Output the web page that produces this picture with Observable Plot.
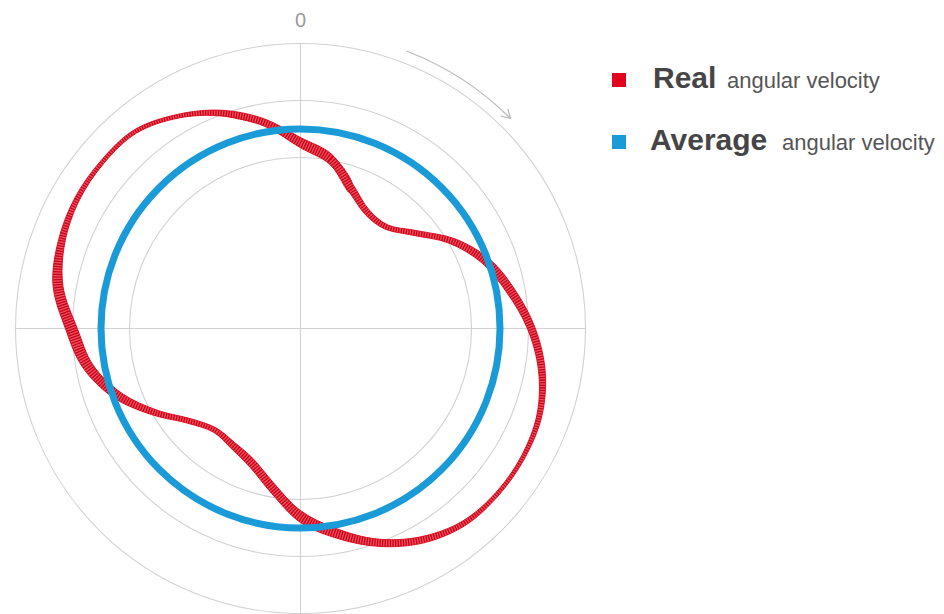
<!DOCTYPE html>
<html>
<head>
<meta charset="utf-8">
<script src="https://cdn.jsdelivr.net/npm/d3@7"></script>
<script src="https://cdn.jsdelivr.net/npm/@observablehq/plot@0.6"></script>
<style>
  body { margin: 0; background: #fff; }
  #wrap { position: relative; width: 944px; height: 614px; overflow: hidden; font-family: "Liberation Sans", Arial, sans-serif; }
  #legend { position: absolute; left: 0; top: 0; }
</style>
</head>
<body>
<div id="wrap"></div>
<script>
// ---- data (angle in degrees clockwise from top; radius in chart units) ----
const angles = [0,10,20,30,40,50,60,70,80,90,100,110,120,130,140,150,160,170,
                180,190,200,210,220,230,240,250,260,270,280,290,300,310,320,330,340,350];
const realVelocity = [3.26,3.02,2.61,2.35,2.33,2.61,3.07,3.46,3.75,4.05,4.30,4.46,4.51,4.51,4.46,4.28,4.00,3.65,
                      3.30,2.84,2.51,2.37,2.33,2.53,2.95,3.42,3.79,4.02,4.32,4.46,4.53,4.54,4.51,4.30,4.02,3.67];
const ribbonWidth = [0.18,0.18,0.16,0.11,0.09,0.12,0.14,0.16,0.16,0.14,0.12,0.09,0.07,0.07,0.09,0.12,0.14,0.18,
                     0.21,0.19,0.16,0.12,0.09,0.11,0.14,0.18,0.19,0.21,0.18,0.12,0.09,0.07,0.07,0.07,0.11,0.14];
const averageVelocity = 3.5;
const ringValues = [3, 4, 5];
const angleTickAngles = [0];
const angleTickLabels = ["0"];
const arrowFrom = 21, arrowTo = 45, arrowRadius = 5.21;
const seriesNames = ["Real", "Average"];
const seriesSuffix = "angular velocity";
const seriesColors = ["#e0061d", "#1a9bd7"];

// ---- helpers ----
const rad = (a) => a * Math.PI / 180;
const px = (r, a) => r * Math.sin(rad(a));
const py = (r, a) => r * Math.cos(rad(a));

const real = angles.map((a, i) => ({a, v: realVelocity[i], w: ribbonWidth[i]}));
const n = real.length;
// closed ribbon outline: outer edge forward, inner edge backward (read values reused for the wrap)
const loop = [
  {...real[n - 2], a: real[n - 2].a - 360},
  {...real[n - 1], a: real[n - 1].a - 360},
  ...real,
  {...real[0], a: real[0].a + 360},
  {...real[1], a: real[1].a + 360},
  {...real[2], a: real[2].a + 360}
];
const ribbonOutline = [
  ...loop.map((d) => ({a: d.a, r: d.v + d.w / 2})),
  ...loop.slice().reverse().map((d) => ({a: d.a, r: d.v - d.w / 2}))
];
const ticks = angleTickAngles.map((a, i) => ({a, label: angleTickLabels[i]}));
const arrows = [{from: arrowFrom, to: arrowTo, r: arrowRadius}];

const U = 57; // pixels per unit
const W = 944, H = 614, CX = 300, CY = 328;
const RIBBON_FILL = "#f0515b";

const chart = Plot.plot({
  width: W,
  height: H,
  margin: 0,
  x: {domain: [-CX / U, (W - CX) / U], axis: null},
  y: {domain: [-(H - CY) / U, CY / U], axis: null},
  r: {type: "linear", domain: [0, 1], range: [0, U]},
  marks: [
    Plot.dot(ringValues, {x: 0, y: 0, r: (d) => d, fill: "none", stroke: "#d2d2d2", strokeWidth: 1.1}),
    Plot.ruleY([0], {x1: -5, x2: 5, stroke: "#d2d2d2", strokeWidth: 1.1}),
    Plot.ruleX([0], {y1: -5, y2: 5, stroke: "#d2d2d2", strokeWidth: 1.1}),
    Plot.text(ticks, {x: (d) => px(5.4, d.a), y: (d) => py(5.4, d.a), text: "label",
      fontSize: 20, fill: "#9a9a9a", fontFamily: "Liberation Sans, Arial, sans-serif"}),
    Plot.arrow(arrows, {
      x1: (d) => px(d.r, d.from), y1: (d) => py(d.r, d.from),
      x2: (d) => px(d.r, d.to), y2: (d) => py(d.r, d.to),
      bend: 12, stroke: "#bdbdbd", strokeWidth: 1.3, headLength: 11
    }),
    // red ribbon (fill)
    Plot.line(ribbonOutline, {
      x: (d) => px(d.r, d.a), y: (d) => py(d.r, d.a),
      curve: "catmull-rom", fill: RIBBON_FILL, stroke: "none"
    }),
    // hatching across the ribbon
    Plot.line(real, {
      x: (d) => px(d.v, d.a), y: (d) => py(d.v, d.a),
      curve: "catmull-rom-closed", stroke: "#c4001a", strokeWidth: 18,
      strokeDasharray: "1.3 1.3", strokeLinecap: "butt"
    }),
    // ribbon edges
    Plot.line(real, {
      x: (d) => px(d.v + d.w / 2, d.a), y: (d) => py(d.v + d.w / 2, d.a),
      curve: "catmull-rom-closed", stroke: "#d80a20", strokeWidth: 0.9
    }),
    Plot.line(real, {
      x: (d) => px(d.v - d.w / 2, d.a), y: (d) => py(d.v - d.w / 2, d.a),
      curve: "catmull-rom-closed", stroke: "#d80a20", strokeWidth: 0.9
    }),
    // average
    Plot.dot([averageVelocity], {x: 0, y: 0, r: (d) => d, fill: "none", stroke: seriesColors[1], strokeWidth: 7})
  ]
});

// clip the hatching to the ribbon shape
const ns = "http://www.w3.org/2000/svg";
const ribbonPath = chart.querySelector('g[fill="' + RIBBON_FILL + '"] path');
const hatch = chart.querySelector('g[stroke-dasharray]');
if (ribbonPath && hatch) {
  const defs = document.createElementNS(ns, "defs");
  const cp = document.createElementNS(ns, "clipPath");
  cp.setAttribute("id", "ribbon-clip");
  const clone = ribbonPath.cloneNode(true);
  cp.appendChild(clone);
  defs.appendChild(cp);
  chart.insertBefore(defs, chart.firstChild);
  const tr = ribbonPath.parentNode.getAttribute("transform");
  if (tr) clone.setAttribute("transform", tr);
  const htr = hatch.getAttribute("transform");
  // put hatch's transform on inner paths so the clip uses chart coordinates
  const wrapG = document.createElementNS(ns, "g");
  wrapG.setAttribute("clip-path", "url(#ribbon-clip)");
  hatch.parentNode.insertBefore(wrapG, hatch);
  wrapG.appendChild(hatch);
}

const wrap = document.getElementById("wrap");
wrap.appendChild(chart);

// legend
const leg = document.createElementNS(ns, "svg");
leg.setAttribute("id", "legend");
leg.setAttribute("width", W);
leg.setAttribute("height", H);
const rows = [
  {sq: [612, 73], nameX: 653, base: 88, suffixX: 727},
  {sq: [612, 135], nameX: 650, base: 150, suffixX: 782}
];
rows.forEach((row, i) => {
  const r = document.createElementNS(ns, "rect");
  r.setAttribute("x", row.sq[0]); r.setAttribute("y", row.sq[1]);
  r.setAttribute("width", 14); r.setAttribute("height", 14);
  r.setAttribute("fill", seriesColors[i]);
  leg.appendChild(r);
  const t1 = document.createElementNS(ns, "text");
  t1.setAttribute("x", row.nameX); t1.setAttribute("y", row.base);
  t1.setAttribute("font-size", 30); t1.setAttribute("font-weight", "700");
  t1.setAttribute("fill", "#454545");
  t1.setAttribute("font-family", "Liberation Sans, Arial, sans-serif");
  t1.textContent = seriesNames[i];
  leg.appendChild(t1);
  const t2 = document.createElementNS(ns, "text");
  t2.setAttribute("x", row.suffixX); t2.setAttribute("y", row.base);
  t2.setAttribute("font-size", 22);
  t2.setAttribute("fill", "#555");
  t2.setAttribute("font-family", "Liberation Sans, Arial, sans-serif");
  t2.textContent = seriesSuffix;
  leg.appendChild(t2);
});
wrap.appendChild(leg);
</script>
</body>
</html>
